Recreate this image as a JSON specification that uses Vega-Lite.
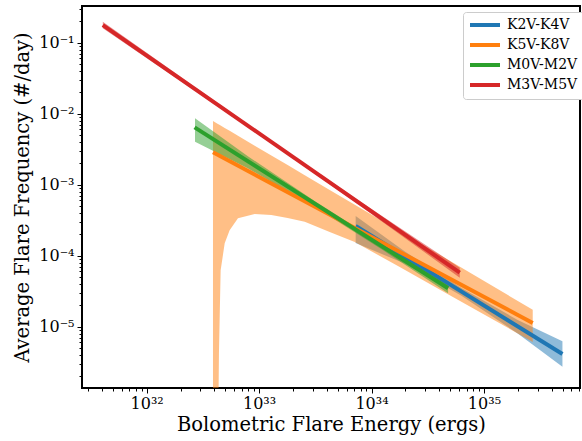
{
  "$schema": "https://vega.github.io/schema/vega-lite/v6.json",
  "width": 498,
  "height": 382,
  "autosize": {"type": "none"},
  "padding": {"left": 82, "top": 6, "right": 2, "bottom": 53},
  "background": "white",
  "config": {
    "view": {"stroke": "black", "strokeWidth": 2},
    "axis": {
      "grid": false,
      "domain": false,
      "tickColor": "black",
      "labelColor": "black",
      "titleColor": "black",
      "labelFont": "DejaVu Serif",
      "titleFont": "DejaVu Serif",
      "labelFontSize": 16,
      "titleFontSize": 19.5,
      "titleFontWeight": "normal"
    },
    "legend": {
      "title": null,
      "orient": "none",
      "legendX": 381,
      "legendY": 6,
      "symbolType": "M-3,0H3",
      "symbolSize": 100,
      "symbolOffset": 9,
      "symbolStrokeWidth": 4,
      "symbolOpacity": 1,
      "labelFont": "DejaVu Serif",
      "labelFontSize": 14,
      "labelColor": "black",
      "labelOffset": 15,
      "rowPadding": 4,
      "padding": 6,
      "strokeColor": "#cccccc",
      "fillColor": "white",
      "cornerRadius": 3
    }
  },
  "datasets": {
    "lines": [
      {"g": "K2V-K4V", "x": 7.228e33, "y": 2.62e-4},
      {"g": "K2V-K4V", "x": 4.989e35, "y": 4.12e-6},
      {"g": "K5V-K8V", "x": 3.89e32, "y": 2.86e-3},
      {"g": "K5V-K8V", "x": 2.716e35, "y": 1.13e-5},
      {"g": "M0V-M2V", "x": 2.67e32, "y": 6.43e-3},
      {"g": "M0V-M2V", "x": 4.8e34, "y": 3.48e-5},
      {"g": "M3V-M5V", "x": 4.074e31, "y": 0.1774},
      {"g": "M3V-M5V", "x": 6.095e34, "y": 5.77e-5}
    ],
    "bands": [
      {"g": "K2V-K4V", "x": 7.228e33, "lo": 1.507e-4, "hi": 3.614e-4},
      {"g": "K2V-K4V", "x": 1.995e34, "lo": 7.691e-5, "hi": 1.138e-4},
      {"g": "K2V-K4V", "x": 6.31e34, "lo": 2.729e-5, "hi": 3.516e-5},
      {"g": "K2V-K4V", "x": 1.995e35, "lo": 8.054e-6, "hi": 1.247e-5},
      {"g": "K2V-K4V", "x": 4.989e35, "lo": 2.723e-6, "hi": 6.237e-6},
      {"g": "K5V-K8V", "x": 3.89e32, "lo": 1e-12, "hi": 7.889e-3},
      {"g": "K5V-K8V", "x": 4.266e32, "lo": 3.162e-8, "hi": 7.244e-3},
      {"g": "K5V-K8V", "x": 4.395e32, "lo": 4.217e-6, "hi": 7.031e-3},
      {"g": "K5V-K8V", "x": 4.55e32, "lo": 6.223e-5, "hi": 6.808e-3},
      {"g": "K5V-K8V", "x": 4.943e32, "lo": 1.493e-4, "hi": 6.31e-3},
      {"g": "K5V-K8V", "x": 5.47e32, "lo": 2.275e-4, "hi": 5.741e-3},
      {"g": "K5V-K8V", "x": 6.486e32, "lo": 3.357e-4, "hi": 4.898e-3},
      {"g": "K5V-K8V", "x": 9.141e32, "lo": 3.864e-4, "hi": 3.548e-3},
      {"g": "K5V-K8V", "x": 1.285e33, "lo": 3.741e-4, "hi": 2.582e-3},
      {"g": "K5V-K8V", "x": 1.795e33, "lo": 3.388e-4, "hi": 1.888e-3},
      {"g": "K5V-K8V", "x": 2.547e33, "lo": 2.999e-4, "hi": 1.361e-3},
      {"g": "K5V-K8V", "x": 4.246e33, "lo": 2.158e-4, "hi": 8.453e-4},
      {"g": "K5V-K8V", "x": 7.096e33, "lo": 1.56e-4, "hi": 5.224e-4},
      {"g": "K5V-K8V", "x": 1.782e34, "lo": 6.918e-5, "hi": 2.213e-4},
      {"g": "K5V-K8V", "x": 4.966e34, "lo": 2.773e-5, "hi": 8.492e-5},
      {"g": "K5V-K8V", "x": 2.716e35, "lo": 6.109e-6, "hi": 1.734e-5},
      {"g": "M0V-M2V", "x": 2.692e32, "lo": 4.027e-3, "hi": 8.61e-3},
      {"g": "M0V-M2V", "x": 7.943e32, "lo": 1.706e-3, "hi": 2.523e-3},
      {"g": "M0V-M2V", "x": 3.162e33, "lo": 4.831e-4, "hi": 5.808e-4},
      {"g": "M0V-M2V", "x": 1.259e34, "lo": 1.202e-4, "hi": 1.445e-4},
      {"g": "M0V-M2V", "x": 4.797e34, "lo": 2.958e-5, "hi": 4.083e-5},
      {"g": "M3V-M5V", "x": 4.074e31, "lo": 0.16, "hi": 0.1968},
      {"g": "M3V-M5V", "x": 2.512e32, "lo": 0.02244, "hi": 0.02576},
      {"g": "M3V-M5V", "x": 1.585e33, "lo": 3.034e-3, "hi": 3.327e-3},
      {"g": "M3V-M5V", "x": 1e34, "lo": 3.873e-4, "hi": 4.55e-4},
      {"g": "M3V-M5V", "x": 6.095e34, "lo": 4.909e-5, "hi": 6.776e-5}
    ]
  },
  "layer": [
    {
      "data": {"name": "bands"},
      "mark": {"type": "area", "opacity": 0.5, "clip": true},
      "encoding": {
        "x": {
          "field": "x", "type": "quantitative",
          "scale": {"type": "log", "domain": [2.66e31, 7.15e35], "nice": false},
          "axis": {
            "orient": "bottom", "title": null, "labels": false, "tickSize": 3, "tickWidth": 1,
            "values": [3e31,4e31,5e31,6e31,7e31,8e31,9e31,2e32,3e32,4e32,5e32,6e32,7e32,8e32,9e32,2e33,3e33,4e33,5e33,6e33,7e33,8e33,9e33,2e34,3e34,4e34,5e34,6e34,7e34,8e34,9e34,2e35,3e35,4e35,5e35,6e35,7e35]
          }
        },
        "y": {
          "field": "lo", "type": "quantitative",
          "scale": {"type": "log", "domain": [1.37e-6, 0.329], "nice": false},
          "axis": {
            "orient": "left", "title": null, "labels": false, "tickSize": 3, "tickWidth": 1,
            "values": [2e-6,3e-6,4e-6,5e-6,6e-6,7e-6,8e-6,9e-6,2e-5,3e-5,4e-5,5e-5,6e-5,7e-5,8e-5,9e-5,2e-4,3e-4,4e-4,5e-4,6e-4,7e-4,8e-4,9e-4,2e-3,3e-3,4e-3,5e-3,6e-3,7e-3,8e-3,9e-3,0.02,0.03,0.04,0.05,0.06,0.07,0.08,0.09,0.2,0.3]
          }
        },
        "y2": {"field": "hi"},
        "color": {
          "field": "g", "type": "nominal",
          "scale": {"domain": ["K2V-K4V","K5V-K8V","M0V-M2V","M3V-M5V"], "range": ["#1f77b4","#ff7f0e","#2ca02c","#d62728"]}
        }
      }
    },
    {
      "data": {"name": "lines"},
      "mark": {"type": "line", "strokeWidth": 4, "clip": true},
      "encoding": {
        "x": {
          "field": "x", "type": "quantitative",
          "scale": {"type": "log", "domain": [2.66e31, 7.15e35], "nice": false},
          "axis": {
            "orient": "bottom", "title": "Bolometric Flare Energy (ergs)", "tickSize": 5, "tickWidth": 1,
            "labelPadding": 2, "titlePadding": 4,
            "values": [1e32, 1e33, 1e34, 1e35],
            "labelExpr": "round(log(datum.value)/LN10) == 32 ? '10³²' : round(log(datum.value)/LN10) == 33 ? '10³³' : round(log(datum.value)/LN10) == 34 ? '10³⁴' : '10³⁵'"
          }
        },
        "y": {
          "field": "y", "type": "quantitative",
          "scale": {"type": "log", "domain": [1.37e-6, 0.329], "nice": false},
          "axis": {
            "orient": "left", "title": "Average Flare Frequency (#/day)", "tickSize": 5, "tickWidth": 1,
            "labelPadding": 3, "titlePadding": 6,
            "values": [1e-5, 1e-4, 1e-3, 1e-2, 1e-1],
            "labelExpr": "round(log(datum.value)/LN10) == -1 ? '10⁻¹' : round(log(datum.value)/LN10) == -2 ? '10⁻²' : round(log(datum.value)/LN10) == -3 ? '10⁻³' : round(log(datum.value)/LN10) == -4 ? '10⁻⁴' : '10⁻⁵'"
          }
        },
        "color": {
          "field": "g", "type": "nominal",
          "scale": {"domain": ["K2V-K4V","K5V-K8V","M0V-M2V","M3V-M5V"], "range": ["#1f77b4","#ff7f0e","#2ca02c","#d62728"]}
        }
      }
    }
  ],
  "resolve": {"axis": {"x": "independent", "y": "independent"}}
}
